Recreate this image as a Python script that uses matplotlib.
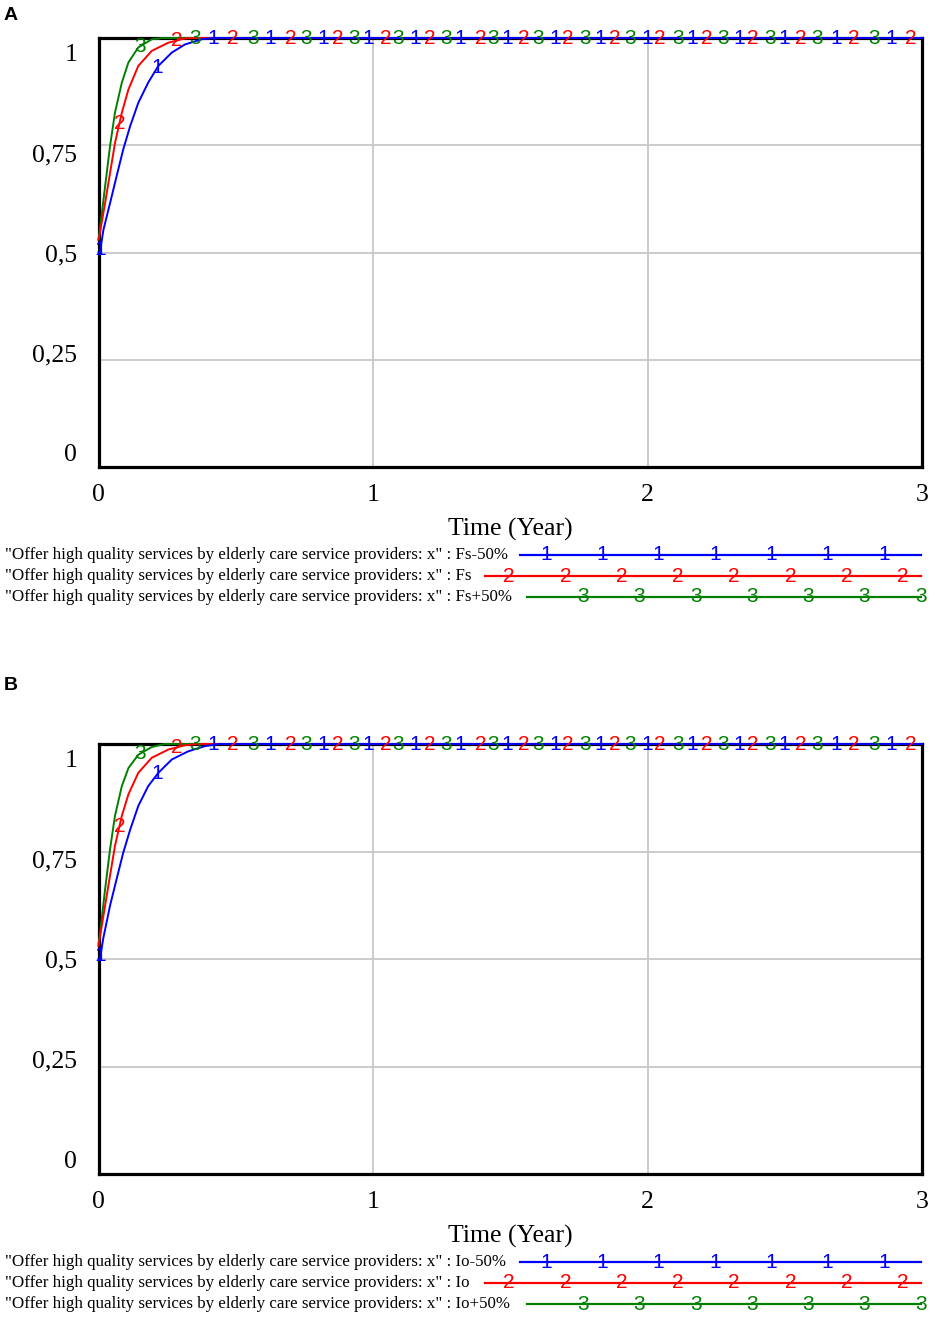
import numpy as np
import matplotlib
matplotlib.use("Agg")
import matplotlib.pyplot as plt
from matplotlib.lines import Line2D

# ---------------- data ----------------
# panel A : parameter Fs
blue_a_t = [0, 0.005, 0.018, 0.042, 0.066, 0.09, 0.115, 0.145, 0.181, 0.218, 0.267, 0.315, 0.376, 0.42, 3]
blue_a_y = [0.5, 0.50, 0.553, 0.615, 0.678, 0.74, 0.794, 0.849, 0.896, 0.935, 0.966, 0.985, 0.997, 1.0, 1.0]
red_a_t = [0, 0.005, 0.024, 0.042, 0.06, 0.085, 0.109, 0.145, 0.194, 0.254, 0.315, 0.35, 3]
red_a_y = [0.53, 0.545, 0.615, 0.685, 0.755, 0.826, 0.88, 0.935, 0.97, 0.989, 0.999, 1.0, 1.0]
green_a_t = [0, 0.005, 0.024, 0.042, 0.06, 0.085, 0.109, 0.145, 0.194, 0.23, 3]
green_a_y = [0.53, 0.553, 0.654, 0.748, 0.826, 0.896, 0.943, 0.978, 0.997, 1.0, 1.0]

# panel B : parameter Io
blue_b_t = [0, 0.005, 0.018, 0.042, 0.066, 0.09, 0.115, 0.145, 0.181, 0.218, 0.267, 0.327, 0.388, 0.44, 3]
blue_b_y = [0.5, 0.50, 0.55, 0.624, 0.686, 0.747, 0.80, 0.856, 0.902, 0.933, 0.964, 0.983, 0.995, 1.0, 1.0]
red_b_t = [0, 0.005, 0.024, 0.042, 0.06, 0.085, 0.109, 0.145, 0.194, 0.254, 0.315, 0.36, 3]
red_b_y = [0.53, 0.55, 0.624, 0.694, 0.763, 0.833, 0.883, 0.933, 0.968, 0.987, 0.997, 1.0, 1.0]
green_b_t = [0, 0.005, 0.024, 0.042, 0.06, 0.085, 0.109, 0.145, 0.194, 0.24, 3]
green_b_y = [0.535, 0.556, 0.662, 0.755, 0.833, 0.902, 0.944, 0.975, 0.993, 1.0, 1.0]

# where the "1", "2", "3" labels sit along each line (years)
mark_t_1 = [0.007, 0.215, 0.419, 0.626, 0.819, 0.983, 1.154, 1.318, 1.489, 1.664, 1.828,
            1.999, 2.163, 2.334, 2.497, 2.687, 2.887]
mark_t_2 = [0.076, 0.284, 0.488, 0.699, 0.870, 1.045, 1.205, 1.391, 1.551, 1.711, 1.882,
            2.046, 2.217, 2.385, 2.559, 2.752, 2.960]
mark_t_3 = [0.153, 0.350, 0.564, 0.757, 0.932, 1.092, 1.267, 1.438, 1.602, 1.773, 1.937,
            2.112, 2.275, 2.447, 2.618, 2.825]

x_ticks = [0, 1, 2, 3]
y_ticks = [0, 0.25, 0.5, 0.75, 1]
y_ticklabels = ["0", "0,25", "0,5", "0,75", "1"]
var_name = '"Offer high quality services by elderly care service providers: x" : '
runs_a = ["Fs-50%", "Fs", "Fs+50%"]
runs_b = ["Io-50%", "Io", "Io+50%"]

# ---------------- style ----------------
W, H = 935, 1317
colors = ["#0000ff", "#ff0000", "#008000"]
serif = ["Liberation Serif", "DejaVu Serif"]
sans = ["Liberation Sans", "DejaVu Sans"]
mark_size = 15

def fx(px):
    return px / W

def fy(py):
    return 1 - py / H

fig = plt.figure(figsize=(W / 100, H / 100), dpi=100)


def draw_panel(top, bottom, series, runs, letter, letter_y):
    ax = fig.add_axes([fx(98.5), fy(bottom), fx(922) - fx(98.5), fy(top) - fy(bottom)])
    ax.set_xlim(0, 3)
    ax.set_ylim(0, 1)
    for s in ax.spines.values():
        s.set_linewidth(2.3)
        s.set_color("black")
    ax.set_xticks(x_ticks)
    ax.set_xticklabels([str(v) for v in x_ticks], family=serif, fontsize=18.5)
    ax.set_yticks(y_ticks)
    ax.set_yticklabels([])
    ax.tick_params(length=0, pad=12)
    ax.grid(True, color="#c8c8c8", linewidth=1.3)
    ax.set_axisbelow(True)

    # Vensim spreads the y labels a bit tighter than the grid
    for v, lab in zip(y_ticks, y_ticklabels):
        ax.text(-0.026, 0.028 + 0.932 * v, lab, transform=ax.transAxes, ha="right",
                va="center", family=serif, fontsize=18.5)

    ax.text(0.5, -0.145, "Time (Year)", transform=ax.transAxes, ha="center", va="center",
            family=serif, fontsize=18.5)

    marks = [mark_t_1, mark_t_2, mark_t_3]
    # green first, blue last (blue ends on top)
    for i in [2, 1, 0]:
        t, y = series[i]
        ax.plot(t, y, color=colors[i], linewidth=1.4, zorder=4 + (2 - i), clip_on=False)
    for i in range(3):
        t, y = series[i]
        for tm in marks[i]:
            ax.text(tm, np.interp(tm, t, y), str(i + 1), color=colors[i], ha="center",
                    va="center", family=sans, fontsize=mark_size, zorder=8, clip_on=False)

    fig.text(fx(4), fy(letter_y), letter, family=sans, fontweight="bold", fontsize=14,
             ha="left", va="center")

    # legend rows under the axes
    row_y = [bottom + 88, bottom + 109, bottom + 130]
    line_x0 = [520, 485, 527]
    mark_x0 = [546, 509, 583]
    for i in range(3):
        fig.text(fx(5), fy(row_y[i]), var_name + runs[i], family=serif, fontsize=12.2,
                 ha="left", va="center")
        fig.add_artist(Line2D([fx(line_x0[i]), fx(921)], [fy(row_y[i]), fy(row_y[i])],
                              color=colors[i], linewidth=1.6, transform=fig.transFigure))
        for mx in np.arange(mark_x0[i], 925, 56.3):
            fig.text(fx(mx), fy(row_y[i]), str(i + 1), color=colors[i], family=sans,
                     fontsize=mark_size, ha="center", va="center")
    return ax


series_a = [(blue_a_t, blue_a_y), (red_a_t, red_a_y), (green_a_t, green_a_y)]
series_b = [(blue_b_t, blue_b_y), (red_b_t, red_b_y), (green_b_t, green_b_y)]

draw_panel(38, 467, series_a, runs_a, "A", 15)
draw_panel(744, 1174, series_b, runs_b, "B", 686)

fig.savefig("out.png", dpi=100)
